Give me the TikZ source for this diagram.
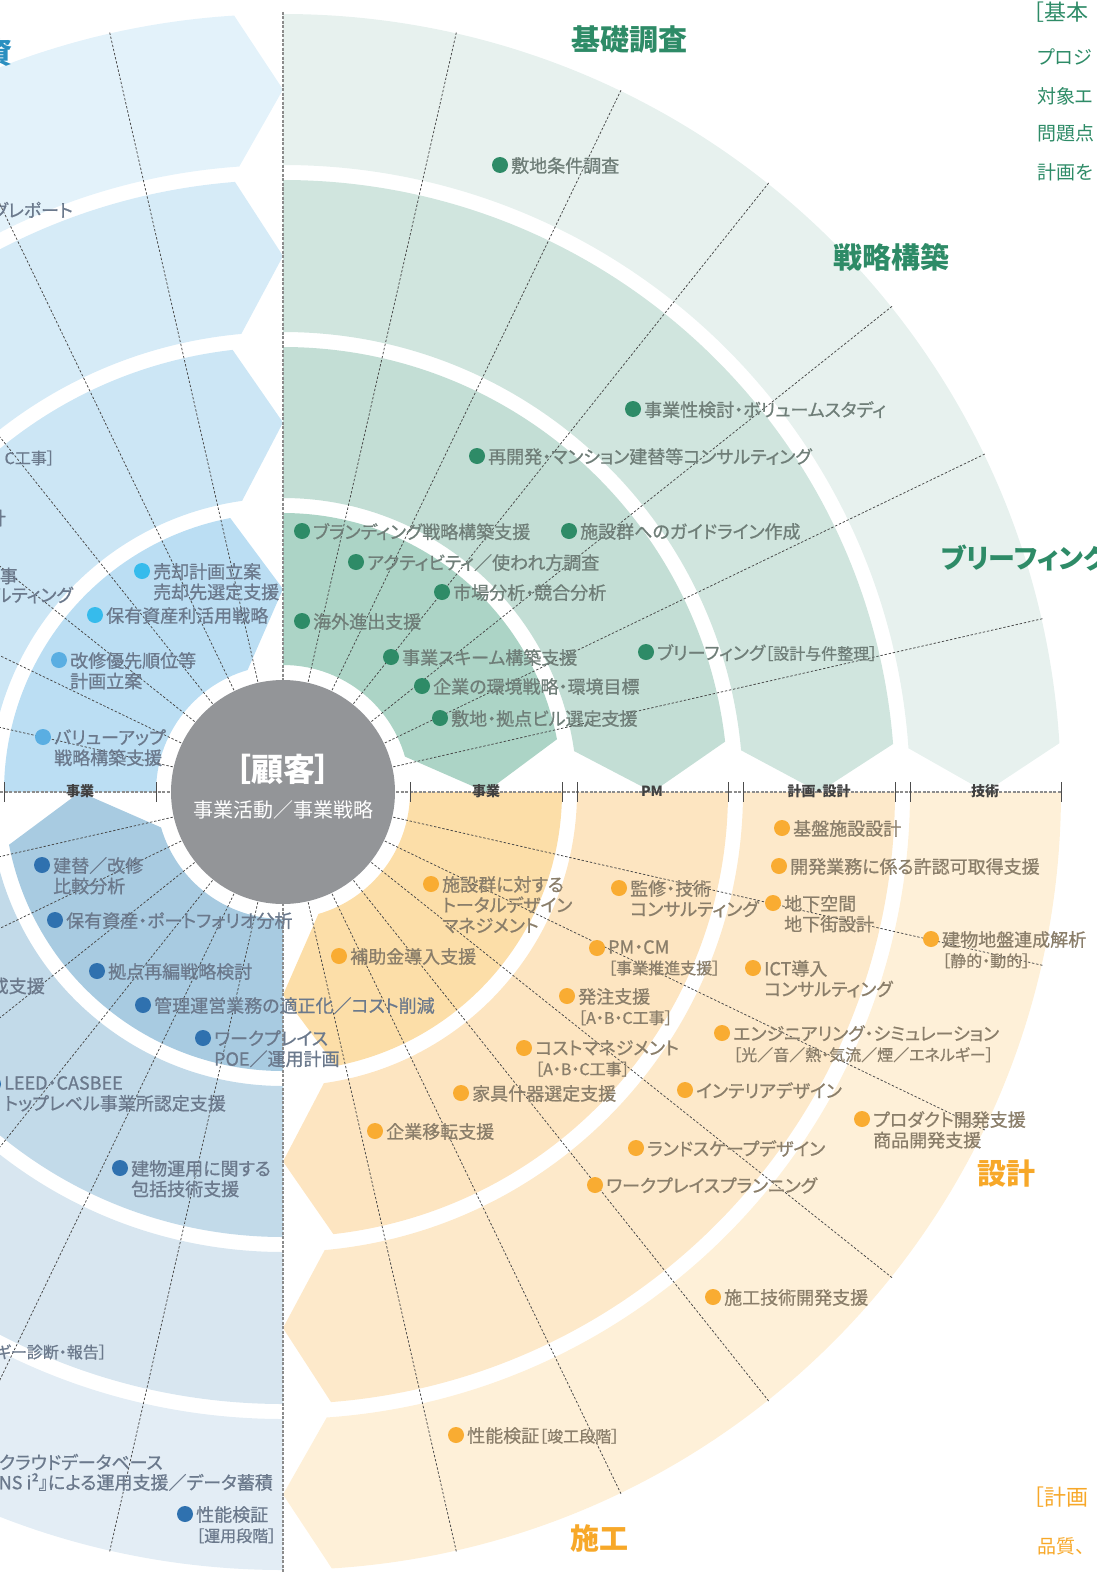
\documentclass[tikz,border=0pt]{standalone}
\usepackage{fontspec}
\setmainfont{Noto Sans CJK JP}[RawFeature={+palt}]
\newfontfamily\svcfont{Noto Sans CJK JP}[RawFeature={+palt}, FakeBold=0.8]
\usetikzlibrary{calc}

\definecolor{grnA}{HTML}{ACD4C6}
\definecolor{grnB}{HTML}{C3DED5}
\definecolor{grnC}{HTML}{D0E5DE}
\definecolor{grnD}{HTML}{E7F1EE}
\definecolor{orgA}{HTML}{FCDEA8}
\definecolor{orgB}{HTML}{FDE5C1}
\definecolor{orgC}{HTML}{FDE9CA}
\definecolor{orgD}{HTML}{FEF0D8}
\definecolor{navA}{HTML}{A8CBE1}
\definecolor{navB}{HTML}{C2DAE9}
\definecolor{navC}{HTML}{D8E6F0}
\definecolor{navD}{HTML}{E3EDF5}
\definecolor{skyA}{HTML}{BBDEF3}
\definecolor{skyB}{HTML}{CCE6F5}
\definecolor{skyC}{HTML}{D6EBF7}
\definecolor{skyD}{HTML}{E3F2FA}
\definecolor{dotG}{HTML}{2E8B67}
\definecolor{dotO}{HTML}{F9AC32}
\definecolor{dotN}{HTML}{2F71AF}
\definecolor{dotC}{HTML}{36BBEC}
\definecolor{dotS}{HTML}{5AAEE2}
\definecolor{txtG}{HTML}{6F7E78}
\definecolor{txtO}{HTML}{8A7E6A}
\definecolor{txtN}{HTML}{6B798C}
\definecolor{ttlG}{HTML}{2E8B67}
\definecolor{ttlO}{HTML}{F7A829}
\definecolor{ttlN}{HTML}{2A8FC0}
\definecolor{hub}{HTML}{939598}

% one ring of a quarter: #1 end angle, #2 inner r, #3 outer r, #4/#5 arrow cut, #6 colour
\newcommand{\band}[6]{%
  \fill[#6] (#1+90:#2) -- (#1+90:#3)
    arc[start angle=#1+90, end angle=#1+#5, radius=#3]
    -- (#1:{(#2+#3)/2}) -- (#1+#4:#2)
    arc[start angle=#1+#4, end angle=#1+90, radius=#2] -- cycle;}
\newcommand{\quadrant}[5]{%
  \band{#1}{127}{279}{16.2}{10.9}{#2}
  \band{#1}{294}{445}{8.0}{6.5}{#3}
  \band{#1}{460}{612}{5.2}{4.5}{#4}
  \band{#1}{627}{778}{4.0}{3.6}{#5}}
% dot + service label
\newcommand{\svc}[5]{%
  \fill[#3] #2 circle (8);
  \node[#4] (#1) at ($#2+(11,-8)$) {#5};}
\newcommand{\subtxt}{\fontsize{16}{20}\selectfont}

\begin{document}
\begin{tikzpicture}[x=1pt, y=-1pt]
\tikzstyle{ray}=[dash pattern=on 2.4pt off 1.8pt, line width=0.75pt, black!72]
\tikzstyle{axisline}=[dash pattern=on 3pt off 1.5pt, line width=1.2pt, black!45]
\tikzstyle{tickmark}=[line width=0.9pt, black!70]
\tikzstyle{axlbl}=[inner sep=0, font=\fontsize{14}{16}\selectfont\bfseries, text=black!75]
\tikzstyle{gsvc}=[anchor=north west, inner sep=0, align=left, text=txtG, font=\svcfont\fontsize{18}{20.5}\selectfont]
\tikzstyle{osvc}=[gsvc, text=txtO]
\tikzstyle{nsvc}=[gsvc, text=txtN]
\tikzstyle{cuttxt}=[anchor=east, inner sep=0, text=txtN, font=\svcfont\fontsize{18}{20.5}\selectfont]
\tikzstyle{phase}=[inner sep=0, font=\fontsize{29}{32}\selectfont\bfseries]
\tikzstyle{side}=[anchor=west, inner sep=0, font=\fontsize{19}{22}\selectfont]

\useasboundingbox (0,0) rectangle (1096,1573);

\begin{scope}[shift={(283,792)}, y=1pt]
  \quadrant{0}{grnA}{grnB}{grnC}{grnD}
  \quadrant{-90}{orgA}{orgB}{orgC}{orgD}
  \quadrant{-180}{navA}{navB}{navC}{navD}
  \quadrant{90}{skyA}{skyB}{skyC}{skyD}
  \foreach \q in {0,90,180,270}
    \foreach \k in {1,...,6}
      \draw[ray] ({\q+\k*90/7}:113) -- ({\q+\k*90/7}:779);
\end{scope}

\draw[axisline] (0,792) -- (1061,792);
\draw[axisline] (283,12) -- (283,1573);
\foreach \x in {4,156,410,562,577,728,743,895,910,1061}
  \draw[tickmark] (\x,782) -- (\x,802);

\node[axlbl] (axbizL) at (80,791) {事業};
\node[axlbl] (axbiz)  at (486,791) {事業};
\node[axlbl] (axpm)   at (652,791) {PM};
\node[axlbl] (axplan) at (819,791) {計画・設計};
\node[axlbl] (axtech) at (985,791) {技術};

\node[circle, fill=hub, minimum size=224pt, inner sep=0] (client) at (283,792) {};
\node[text=white, inner sep=0, font=\fontsize{32}{34}\selectfont\bfseries] (clientname) at (283,769) {［顧客］};
\node[text=white, inner sep=0, font=\fontsize{20}{24}\selectfont] (clientwork) at (283,810) {事業活動／事業戦略};

% phase titles
\node[phase, text=ttlG] (kiso) at (629,40) {基礎調査};
\node[phase, text=ttlG] (senryaku) at (891,257) {戦略構築};
\node[phase, text=ttlG, anchor=west, font=\fontsize{27}{30}\selectfont\bfseries] (brief) at (941,558) {ブリーフィング};
\node[phase, text=ttlO] (sekkei) at (1006,1174) {設計};
\node[phase, text=ttlO] (seko) at (599,1538) {施工};
\node[phase, text=ttlN, anchor=east] (shi) at (13,53) {資};

% green
\svc{siteSurvey}{(500,165)}{dotG}{gsvc}{敷地条件調査}
\svc{feasibility}{(633,409)}{dotG}{gsvc}{事業性検討・ボリュームスタディ}
\svc{redevelop}{(477,456)}{dotG}{gsvc}{再開発・マンション建替等コンサルティング}
\svc{branding}{(302,531)}{dotG}{gsvc}{ブランディング戦略構築支援}
\svc{guideline}{(569,531)}{dotG}{gsvc}{施設群へのガイドライン作成}
\svc{activity}{(356,562)}{dotG}{gsvc}{アクティビティ／使われ方調査}
\svc{market}{(442,592)}{dotG}{gsvc}{市場分析・競合分析}
\svc{overseas}{(302,621)}{dotG}{gsvc}{海外進出支援}
\svc{scheme}{(391,657)}{dotG}{gsvc}{事業スキーム構築支援}
\svc{ecoplan}{(422,686)}{dotG}{gsvc}{企業の環境戦略・環境目標}
\svc{baseSite}{(440,718)}{dotG}{gsvc}{敷地・拠点ビル選定支援}
\svc{briefing}{(646,652)}{dotG}{gsvc}{ブリーフィング{\subtxt［設計与件整理］}}

% orange
\svc{infra}{(782,828)}{dotO}{osvc}{基盤施設設計}
\svc{permit}{(779,866)}{dotO}{osvc}{開発業務に係る許認可取得支援}
\svc{underground}{(773,903)}{dotO}{osvc}{地下空間\\地下街設計}
\svc{soil}{(931,939)}{dotO}{osvc}{建物地盤連成解析\\{\subtxt［静的・動的］}}
\svc{ict}{(753,968)}{dotO}{osvc}{ICT導入\\コンサルティング}
\svc{engsim}{(722,1033)}{dotO}{osvc}{エンジニアリング・シミュレーション\\{\subtxt［光／音／熱・気流／煙／エネルギー］}}
\svc{interior}{(685,1090)}{dotO}{osvc}{インテリアデザイン}
\svc{product}{(862,1119)}{dotO}{osvc}{プロダクト開発支援\\商品開発支援}
\svc{landscape}{(636,1148)}{dotO}{osvc}{ランドスケープデザイン}
\svc{workplan}{(595,1185)}{dotO}{osvc}{ワークプレイスプランニング}
\svc{techdev}{(713,1297)}{dotO}{osvc}{施工技術開発支援}
\svc{perfbuild}{(456,1435)}{dotO}{osvc}{性能検証{\subtxt［竣工段階］}}
\svc{totaldesign}{(431,884)}{dotO}{osvc}{施設群に対する\\トータルデザイン\\マネジメント}
\svc{supervise}{(619,888)}{dotO}{osvc}{監修・技術\\コンサルティング}
\svc{pmcm}{(597,948)}{dotO}{osvc}{PM・CM\\{\subtxt［事業推進支援］}}
\svc{order}{(567,996)}{dotO}{osvc}{発注支援\\{\subtxt［A・B・C工事］}}
\svc{costmgmt}{(524,1048)}{dotO}{osvc}{コストマネジメント\\{\subtxt［A・B・C工事］}}
\svc{furniture}{(461,1093)}{dotO}{osvc}{家具什器選定支援}
\svc{relocate}{(375,1131)}{dotO}{osvc}{企業移転支援}
\svc{subsidy}{(339,956)}{dotO}{osvc}{補助金導入支援}

% navy
\svc{rebuild}{(42,865)}{dotN}{nsvc}{建替／改修\\比較分析}
\svc{portfolio}{(55,920)}{dotN}{nsvc}{保有資産・ポートフォリオ分析}
\svc{relayout}{(97,971)}{dotN}{nsvc}{拠点再編戦略検討}
\svc{opcost}{(143,1005)}{dotN}{nsvc}{管理運営業務の適正化／コスト削減}
\svc{workpoe}{(203,1038)}{dotN}{nsvc}{ワークプレイス\\POE／運用計画}
\svc{leed}{(-7,1084)}{dotN}{nsvc}{LEED・CASBEE\\トップレベル事業所認定支援}
\svc{bldgops}{(120,1168)}{dotN}{nsvc}{建物運用に関する\\包括技術支援}
\svc{perfops}{(185,1514)}{dotN}{nsvc}{性能検証\\{\subtxt［運用段階］}}
\node[cuttxt] (cutN1) at (45,986) {成支援};
\node[cuttxt, font=\svcfont\subtxt] (cutN2) at (107,1352) {ギー診断・報告］};
\node[cuttxt] (cloudA) at (163,1462) {クラウドデータベース};
\node[cuttxt] (cloudB) at (273,1482) {『NS i²』による運用支援／データ蓄積};

% sky
\svc{sale}{(142,571)}{dotC}{nsvc}{売却計画立案\\売却先選定支援}
\svc{assetuse}{(95,615)}{dotC}{nsvc}{保有資産利活用戦略}
\svc{renovorder}{(59,660)}{dotS}{nsvc}{改修優先順位等\\計画立案}
\svc{valueup}{(43,737)}{dotS}{nsvc}{バリューアップ\\戦略構築支援}
\node[cuttxt] (cutS1) at (73,210) {グレポート};
\node[cuttxt, font=\svcfont\subtxt] (cutS2) at (55,458) {C工事］};
\node[cuttxt] (cutS3) at (6,518) {計};
\node[cuttxt] (cutS4) at (18,576) {事};
\node[cuttxt] (cutS5) at (73,595) {ルティング};

% side notes
\node[side, text=ttlG, font=\fontsize{22}{24}\selectfont] (basicHead) at (1033,12) {［基本};
\node[side, text=ttlG] (basicA) at (1037,57) {プロジ};
\node[side, text=ttlG] (basicB) at (1037,96) {対象エ};
\node[side, text=ttlG] (basicC) at (1037,133) {問題点};
\node[side, text=ttlG] (basicD) at (1037,172) {計画を};
\node[side, text=ttlO, font=\fontsize{22}{24}\selectfont] (planHead) at (1033,1497) {［計画};
\node[side, text=ttlO] (planA) at (1037,1546) {品質、};

\end{tikzpicture}
\end{document}
